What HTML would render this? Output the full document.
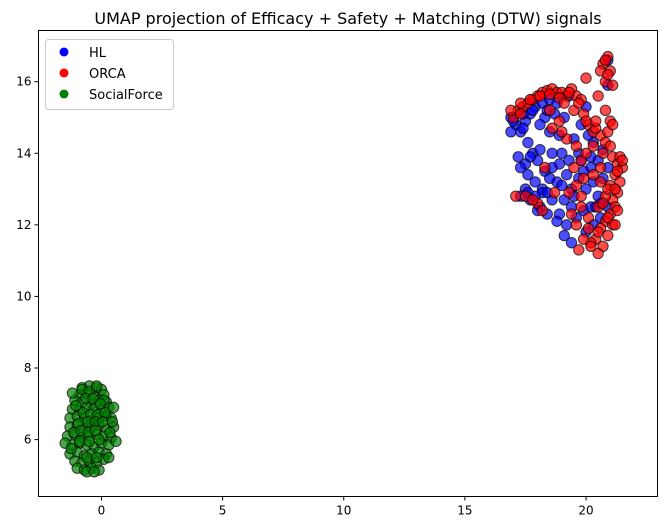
<!DOCTYPE html>
<html><head><meta charset="utf-8"><style>
html,body{margin:0;padding:0;background:#fff;}
svg{display:block;font-family:"DejaVu Sans","Liberation Sans",sans-serif;}
</style></head><body>
<svg id="chart" width="667" height="528" viewBox="0 0 667 528" xmlns="http://www.w3.org/2000/svg">
<text x="348" y="24" text-anchor="middle" font-size="16">UMAP projection of Efficacy + Safety + Matching (DTW) signals</text>
<g id="marks"></g>
<rect x="38.5" y="30.5" width="619" height="466" fill="none" stroke="#000" stroke-width="1"/>
<g id="axes"></g>
<g>
<rect x="45.5" y="39.5" width="128" height="70" rx="3" fill="#fff" fill-opacity="0.8" stroke="#ccc"/>
<circle cx="64" cy="52" r="4.5" fill="blue"/>
<text x="89" y="57" font-size="13">HL</text>
<circle cx="64" cy="73" r="4.5" fill="red"/>
<text x="89" y="78" font-size="13">ORCA</text>
<circle cx="64" cy="94" r="4.5" fill="green"/>
<text x="89" y="99" font-size="13">SocialForce</text>
</g>
</svg>
<script>
const xTicks=[0,5,10,15,20];
const yTicks=[6,8,10,12,14,16];
const orcaX=[17.0,17.2,17.4,17.6,17.8,18.0,18.2,18.4,18.6,18.8,19.0,19.2,19.4,19.6,19.8,19.5,19.9,20.1,20.3,20.6,20.8,21.0,20.7,21.1,21.3,21.5,21.2,21.4,21.0,21.3,21.1,20.8,21.2,21.0,20.8,21.1,20.6,20.9,20.4,20.7,20.5,20.2,19.9,20.1,19.6,19.4,19.8,19.3,19.6,19.5,19.8,20.0,19.2,18.9,18.5,17.1,18.0,18.7,20.0,20.7,20.9,21.0,20.8,21.1,20.6,20.5,20.3,20.6,20.9,17.5,19.9,21.4,
 16.9,17.3,17.7,18.1,18.5,18.9,19.3,19.7,20.0,20.4,20.9,21.3,21.5,21.2,20.9,20.5,20.2,19.8,18.3,17.3,21.0,20.8,20.5,19.0,18.2,19.6,20.3,21.2,20.7,21.3,20.9,20.4,20.1,19.7,17.8,18.6,19.1,20.6,21.1,20.8];
const orcaY=[15.0,15.2,15.3,15.4,15.5,15.6,15.7,15.75,15.8,15.7,15.7,15.6,15.8,15.6,15.5,15.2,15.1,14.8,14.6,14.5,14.3,14.2,14.0,13.9,13.7,13.6,13.4,13.2,13.1,12.9,12.7,12.8,12.5,12.3,12.1,12.0,11.9,11.7,11.6,11.4,11.2,11.5,11.6,11.9,12.0,12.3,12.5,12.9,13.1,13.6,13.8,14.0,14.4,14.9,15.2,12.8,12.6,12.9,16.1,16.5,16.7,16.3,16.0,15.9,16.3,15.6,14.2,13.6,13.0,12.8,13.3,13.9,
 15.2,15.4,15.5,15.6,15.65,15.55,15.7,15.4,14.9,14.7,14.6,13.5,13.8,13.0,12.2,11.8,11.4,12.8,13.6,15.1,14.9,15.2,12.5,14.6,12.4,14.2,13.4,12.0,12.6,12.4,16.2,14.9,12.2,11.3,12.7,14.7,15.4,13.2,14.8,16.6];
const hlX=[16.9,17.1,17.3,16.9,17.5,17.7,17.9,18.2,18.5,18.3,18.7,18.1,17.6,17.2,17.5,17.8,18.0,17.6,17.9,17.5,18.2,17.7,18.1,18.4,18.6,18.3,18.6,18.9,19.2,18.8,19.4,19.1,19.4,18.9,19.6,19.9,20.3,20.0,19.1,19.4,20.2,20.5,20.3,20.7,20.5,20.9,20.2,20.0,19.7,19.5,19.8,20.3,20.0,20.9,20.9,19.1,19.3,17.4,18.9,19.0,20.7,20.9,20.6,17.3,
 17.0,17.4,17.8,18.4,18.8,17.3,17.7,18.1,18.5,18.2,19.0,19.3,17.6,18.0,18.4,18.8,19.5,19.9,20.4,20.1,19.7,20.6,19.2,18.6,19.8,20.2,17.9,18.5];
const hlY=[15.0,14.8,14.6,14.6,14.9,15.1,15.3,15.4,15.5,15.0,15.1,14.8,14.3,13.9,13.7,14.0,13.8,13.4,13.2,13.0,13.0,12.7,12.5,12.3,12.7,13.5,14.0,13.7,13.4,13.2,13.0,12.7,12.5,12.3,12.2,12.4,12.0,11.8,11.7,11.5,12.5,12.8,13.2,13.3,13.8,13.6,13.6,13.0,14.0,14.4,14.8,14.3,15.3,16.6,15.9,15.0,15.6,15.1,14.5,14.0,14.1,12.5,12.2,12.8,
 14.9,14.7,15.2,15.2,15.4,13.6,13.9,14.1,13.3,12.9,13.1,13.8,12.9,12.4,12.9,12.1,12.8,13.5,12.5,14.5,13.3,12.6,12.0,13.6,13.8,13.9,12.8,14.6];
const sfX=[-0.8,-0.5,-0.2,0.0,-0.9,-0.6,-0.3,0.1,-1.1,-0.8,-0.4,-0.1,0.2,-1.2,-0.9,-0.6,-0.3,0.0,0.3,-1.3,-1.0,-0.7,-0.4,-0.1,0.2,0.4,-1.3,-1.0,-0.7,-0.4,-0.1,0.2,0.5,-1.4,-1.1,-0.8,-0.5,-0.2,0.1,0.4,-1.2,-0.9,-0.6,-0.3,0.0,0.3,0.6,-1.3,-1.0,-0.7,-0.4,-0.1,0.2,-1.1,-0.8,-0.5,-0.2,0.1,0.3,-1.0,-0.7,-0.4,-0.1,-0.8,-0.5,-0.2,-0.6,-0.3,-1.5,0.5,-1.2,0.1,
 -0.65,-0.35,-0.05,-1.05,-0.75,-0.45,-0.15,0.15,-0.95,-0.55,-0.25,0.05,-1.15,-0.85,-0.55,-0.25,0.35,-0.9,-0.5,-0.1,-1.25,0.45,-0.6,-0.2];
const sfY=[7.45,7.5,7.45,7.4,7.25,7.3,7.2,7.25,7.1,7.05,7.0,7.1,7.05,6.85,6.8,6.9,6.85,6.8,6.9,6.6,6.65,6.6,6.55,6.6,6.65,6.6,6.35,6.4,6.3,6.35,6.4,6.3,6.35,6.1,6.15,6.05,6.1,6.15,6.1,6.05,5.85,5.9,5.85,5.8,5.9,5.85,5.95,5.6,5.65,5.55,5.6,5.65,5.6,5.4,5.35,5.4,5.35,5.45,5.5,5.2,5.15,5.2,5.15,7.4,7.35,7.5,5.1,5.1,5.9,6.9,7.3,7.1,
 7.15,7.15,7.0,6.95,6.75,6.7,6.7,6.75,6.45,6.5,6.5,6.5,6.2,6.25,6.2,6.25,6.2,5.95,5.95,6.0,5.75,6.5,5.5,5.5];
const X0=-2.6,X1=22.95,Y0=4.41,Y1=17.43,L=38.5,R=657.5,T=30.5,B=496.5;
function sx(v){return L+(v-X0)/(X1-X0)*(R-L);}
function sy(v){return B-(v-Y0)/(Y1-Y0)*(B-T);}
const NS='http://www.w3.org/2000/svg';
const marks=document.getElementById('marks');
function series(xs,ys,color,name){
  const g=document.createElementNS(NS,'g');
  
  
  for(let i=0;i<xs.length;i++){
    const c=document.createElementNS(NS,'circle');
    
    
    c.setAttribute('cx',sx(xs[i]));c.setAttribute('cy',sy(ys[i]));c.setAttribute('r',5.2);
    c.setAttribute('fill',color);c.setAttribute('fill-opacity','0.7');
    c.setAttribute('stroke','#000');c.setAttribute('stroke-opacity','0.7');c.setAttribute('stroke-width','1');
    g.appendChild(c);
  }
  marks.appendChild(g);
}
series(hlX,hlY,'blue','hl');
series(orcaX,orcaY,'red','orca');
series(sfX,sfY,'green','socialforce');
const axes=document.getElementById('axes');
xTicks.forEach(t=>{
  const l=document.createElementNS(NS,'line');
  
  
  l.setAttribute('x1',sx(t));l.setAttribute('x2',sx(t));l.setAttribute('y1',B);l.setAttribute('y2',B+4);l.setAttribute('stroke','#000');
  axes.appendChild(l);
  const tx=document.createElementNS(NS,'text');
  
  
  tx.setAttribute('x',sx(t));tx.setAttribute('y',B+18);tx.setAttribute('text-anchor','middle');tx.setAttribute('font-size','12');
  tx.textContent=t;axes.appendChild(tx);
});
yTicks.forEach(t=>{
  const l=document.createElementNS(NS,'line');
  
  
  l.setAttribute('x1',L-4);l.setAttribute('x2',L);l.setAttribute('y1',sy(t));l.setAttribute('y2',sy(t));l.setAttribute('stroke','#000');
  axes.appendChild(l);
  const tx=document.createElementNS(NS,'text');
  
  
  tx.setAttribute('x',L-7);tx.setAttribute('y',sy(t)+4);tx.setAttribute('text-anchor','end');tx.setAttribute('font-size','12');
  tx.textContent=t;axes.appendChild(tx);
});
</script>
</body></html>
